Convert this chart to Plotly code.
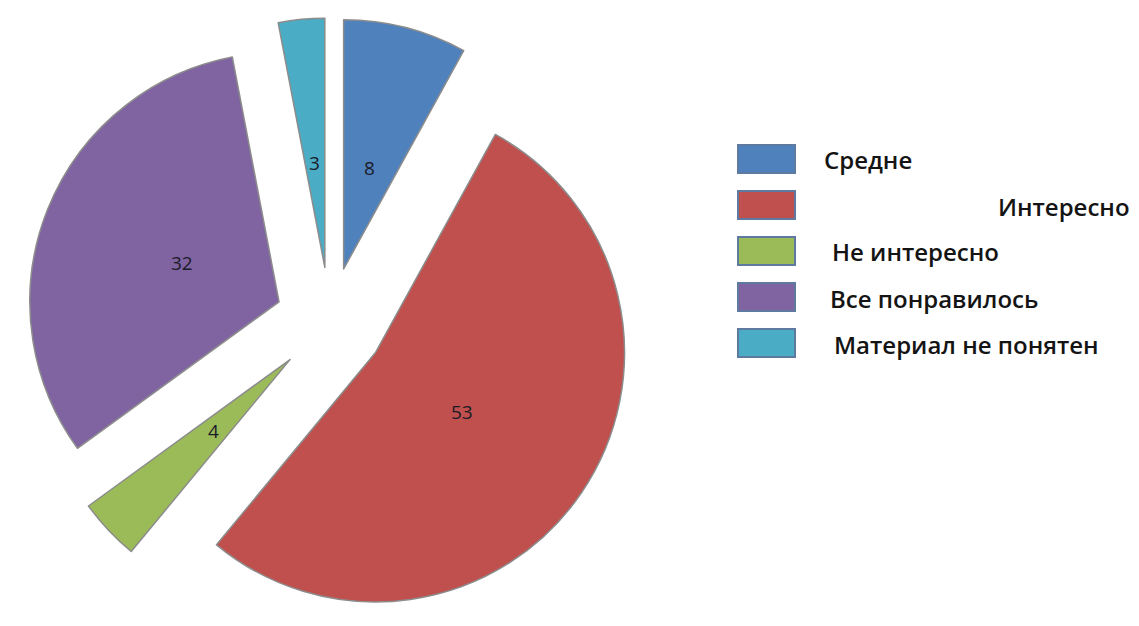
import math
import plotly.graph_objects as go

# ---- data ----
categories = ["Средне", "Интересно", "Не интересно", "Все понравилось", "Материал не понятен"]
values = [8, 53, 4, 32, 3]
colors = ["#4F81BD", "#C0504D", "#9BBB59", "#8064A2", "#4BACC6"]

# ---- layout constants (page pixels; the page body adds an 8px margin) ----
OFF = 8
W, H = 1139 - OFF, 626 - OFF
PULL = 0.22
CX_PAGE, CY_PAGE = 330, 322
half_h = (626 - CY_PAGE)
DOM_X = [0.0, 2 * (CX_PAGE - OFF) / W]
DOM_Y = [0.0, 2 * half_h / H]
LABEL_K = 0.42  # label distance from slice apex as fraction of radius
legend_text_x = [822, 996, 830, 828, 832]
legend_box_x = (738, 795)
legend_y0, legend_dy, legend_box_h = 159, 46, 28

def px_x(x):
    return (x - OFF) / W

def px_y(y):
    return 1 - (y - OFF) / H

fig = go.Figure(go.Pie(
    labels=categories,
    values=values,
    sort=False,
    direction="clockwise",
    rotation=0,
    pull=[PULL] * len(values),
    marker=dict(colors=colors, line=dict(color="#8c8c8c", width=1.5)),
    textinfo="none",
    hoverinfo="label+value",
    domain=dict(x=DOM_X, y=DOM_Y),
    showlegend=False,
))

# geometry as plotly computes it
box_w = W * (DOM_X[1] - DOM_X[0])
box_h = H * (DOM_Y[1] - DOM_Y[0])
r = min(box_w, box_h) / (2 + 2 * PULL)
cx = OFF + W * (DOM_X[0] + DOM_X[1]) / 2
cy = OFF + H * (2 - DOM_Y[0] - DOM_Y[1]) / 2

total = sum(values)
cum = 0
annotations = []
for v in values:
    theta = 2 * math.pi * (cum + v / 2) / total
    cum += v
    dist = PULL * r + LABEL_K * r
    px = cx + dist * math.sin(theta)
    py = cy - dist * math.cos(theta)
    annotations.append(dict(
        x=px_x(px), y=px_y(py), xref="paper", yref="paper",
        xanchor="center", yanchor="middle",
        text=str(v), showarrow=False,
        font=dict(family="Open Sans", size=19, color="#1b1b28"),
    ))

shapes = []
for i, (name, col) in enumerate(zip(categories, colors)):
    yc = legend_y0 + i * legend_dy
    shapes.append(dict(
        type="rect", xref="paper", yref="paper",
        x0=px_x(legend_box_x[0]), x1=px_x(legend_box_x[1]),
        y0=px_y(yc - legend_box_h / 2), y1=px_y(yc + legend_box_h / 2),
        fillcolor=col, line=dict(color="#5f7aa0", width=2),
    ))
    annotations.append(dict(
        x=px_x(legend_text_x[i]), y=px_y(yc + 1), xref="paper", yref="paper",
        xanchor="left", yanchor="middle", text=name, showarrow=False,
        font=dict(family="Open Sans", size=24, color="#141414", weight=600),
    ))

fig.update_layout(
    width=W, height=H,
    margin=dict(l=0, r=0, t=0, b=0),
    paper_bgcolor="white", plot_bgcolor="white",
    annotations=annotations, shapes=shapes,
)

fig.write_html("out.html")
